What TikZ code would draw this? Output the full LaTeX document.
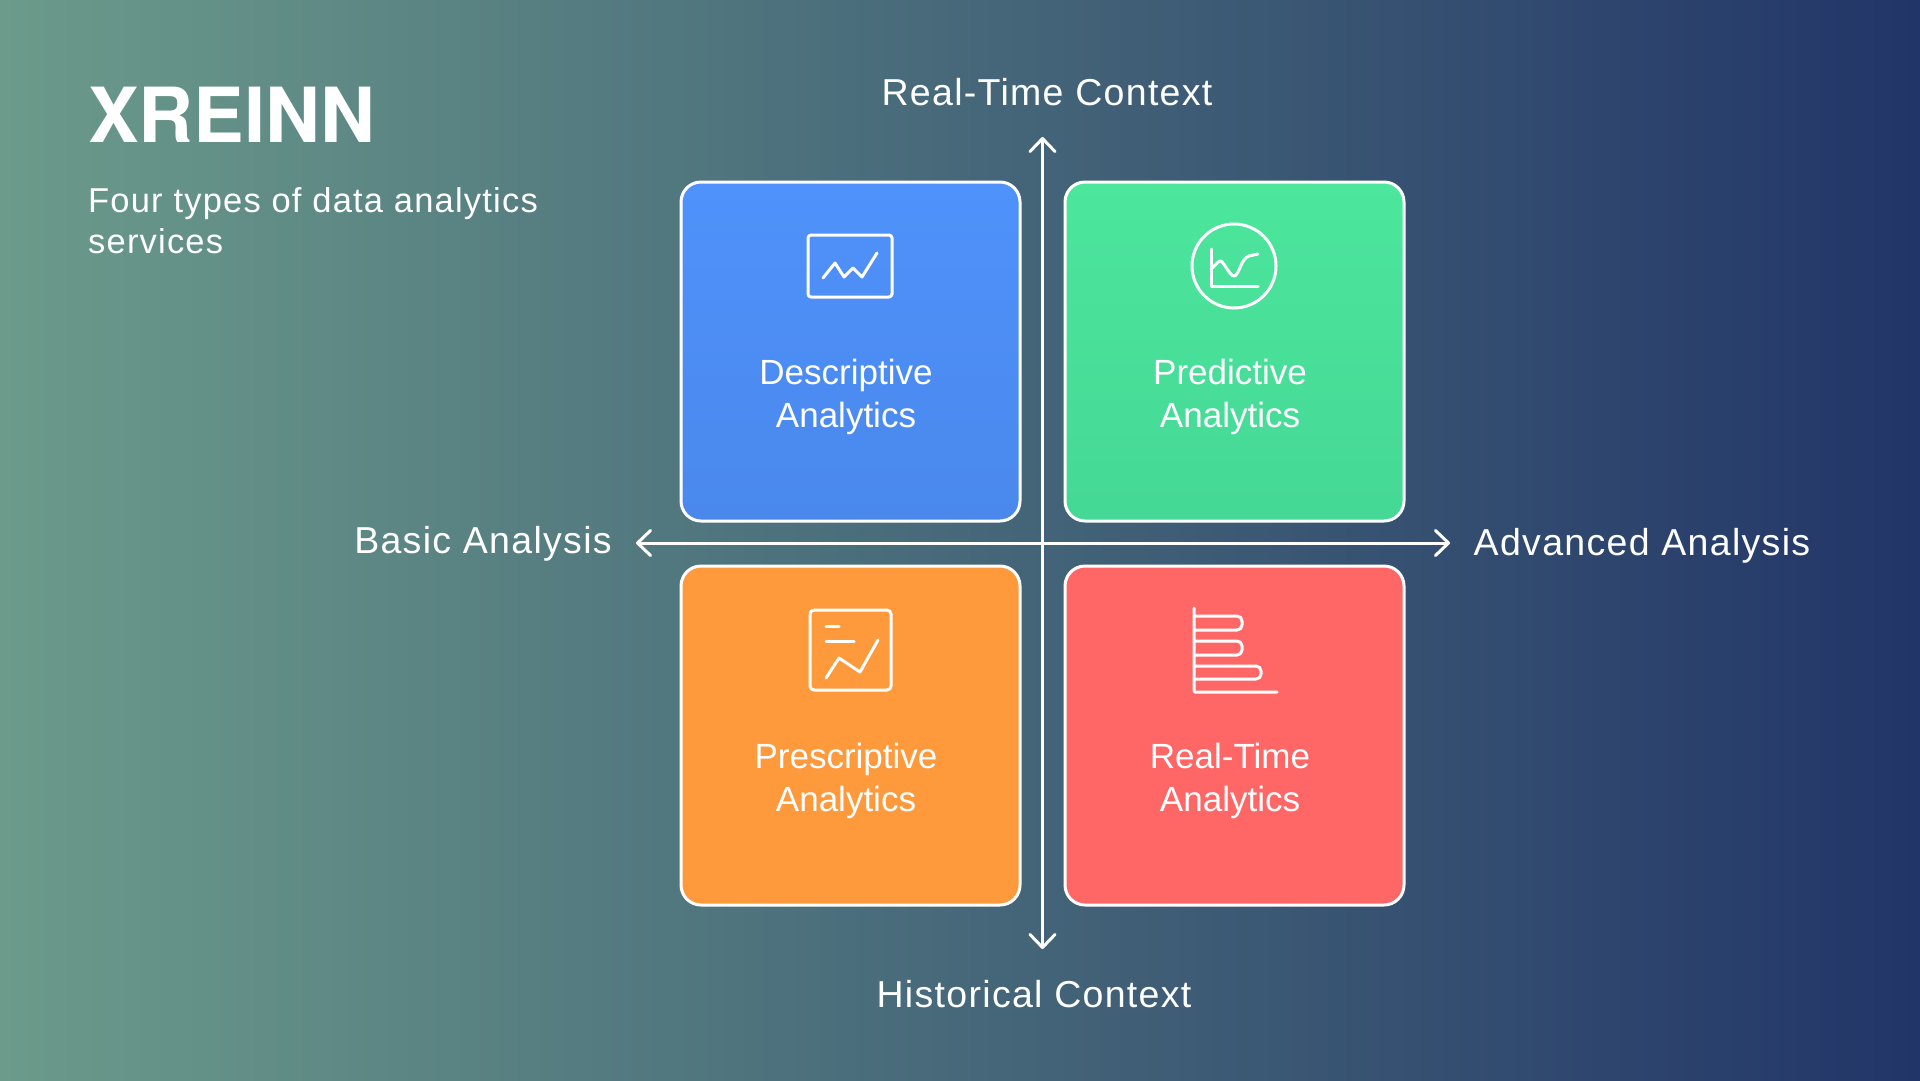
\documentclass[tikz,border=0pt]{standalone}
\usepackage{fontspec}
\setmainfont{Liberation Sans}
\newfontfamily\headfont{TeX Gyre Heros}
\newfontfamily\spacedfont[LetterSpace=3.5]{Liberation Sans}
\usetikzlibrary{arrows.meta}
\definecolor{bgleft}{HTML}{6B9B8B}
\definecolor{bgmiddle}{HTML}{4B6A78}
\definecolor{bgright}{HTML}{223568}
\definecolor{bluetop}{HTML}{4F92FB}
\definecolor{bluebottom}{HTML}{4A88EC}
\definecolor{greentop}{HTML}{4CE69C}
\definecolor{greenbottom}{HTML}{45D896}
\definecolor{cardorange}{HTML}{FF9A3C}
\definecolor{cardred}{HTML}{FF6767}
\tikzset{
  card/.style={draw=white,line width=3pt,rounded corners=20pt,minimum width=339pt,minimum height=339pt,inner sep=0,outer sep=0},
  cardtext/.style={white,align=center,font=\fontsize{35}{43}\selectfont,inner sep=0},
  axislabel/.style={white,font=\spacedfont\fontsize{37.5}{44}\selectfont,inner sep=0},
  icon/.style={white,line width=3pt,line cap=round,line join=round},
  axis/.style={white,line width=3pt,<->,>={Straight Barb[length=13pt,width=25pt,line width=3pt,round]}}
}
\begin{document}
\begin{tikzpicture}[x=1pt,y=-1pt]
\shade [left color=bgleft,middle color=bgmiddle,right color=bgright] (0,0) rectangle (1920,1080);
\useasboundingbox (0,0) rectangle (1920,1080);
% title
\node (title) at (88,115) [anchor=west,white,inner sep=0,font=\headfont\bfseries\fontsize{76}{80}\selectfont] {XREINN};
\node (subtitle) at (88,221) [anchor=west,white,inner sep=0,align=left,font=\spacedfont\fontsize{34.5}{41}\selectfont] {Four types of data analytics\\services};
% axes
\coordinate (top) at (1042.5,137);
\coordinate (bottom) at (1042.5,949);
\coordinate (left) at (636,543);
\coordinate (right) at (1450,543);
\draw [axis] (bottom) -- (top);
\draw [axis] (left) -- (right);
\node (realtimectx) at (1047,92) [axislabel] {Real-Time Context};
\node (historicalctx) at (1034,994) [axislabel] {Historical Context};
\node (basic) at (483,544) [axislabel] {Basic Analysis};
\node (advanced) at (1642,546) [axislabel] {Advanced Analysis};
% cards
\node (descriptive) at (850.5,351.5) [card,top color=bluetop,bottom color=bluebottom] {};
\node (predictive) at (1234.5,351.5) [card,top color=greentop,bottom color=greenbottom] {};
\node (prescriptive) at (850.5,735.5) [card,fill=cardorange] {};
\node (realtime) at (1234.5,735.5) [card,fill=cardred] {};
\node (descriptivetext) at (846,397) [cardtext] {Descriptive\\Analytics};
\node (predictivetext) at (1230,397) [cardtext] {Predictive\\Analytics};
\node (prescriptivetext) at (846,781) [cardtext] {Prescriptive\\Analytics};
\node (realtimetext) at (1230,781) [cardtext] {Real-Time\\Analytics};
% icons
\draw [icon,rounded corners=3pt] (808,235) rectangle (892,297);
\draw [icon] (823,278) -- (835,263) -- (844,277) -- (853,268) -- (862,277) -- (877,253);
\draw [icon] (1234,266) circle (42);
\draw [icon] (1211,249) -- (1211,286) -- (1258,286);
\draw [icon] (1211,269) .. controls (1216,265) and (1219,260) .. (1221,261) .. controls (1225,264) and (1230,276) .. (1234,276) .. controls (1239,276) and (1241,258) .. (1249,256) -- (1258,254);
\draw [icon,rounded corners=4pt] (810,610) rectangle (891,690);
\draw [icon] (826,626) -- (839,626);
\draw [icon] (826,641) -- (854,641);
\draw [icon] (826,678) -- (839,658) -- (860,672) -- (878,640);
\draw [icon,rounded corners=1pt] (1194,608) -- (1194,692) -- (1277,692);
\draw [icon,rounded corners=5pt] (1194,616) -- (1242,616) -- (1242,630) -- (1194,630);
\draw [icon,rounded corners=5pt] (1194,641) -- (1242,641) -- (1242,655) -- (1194,655);
\draw [icon,rounded corners=5pt] (1194,666) -- (1261,666) -- (1261,679) -- (1194,679);
\end{tikzpicture}
\end{document}
